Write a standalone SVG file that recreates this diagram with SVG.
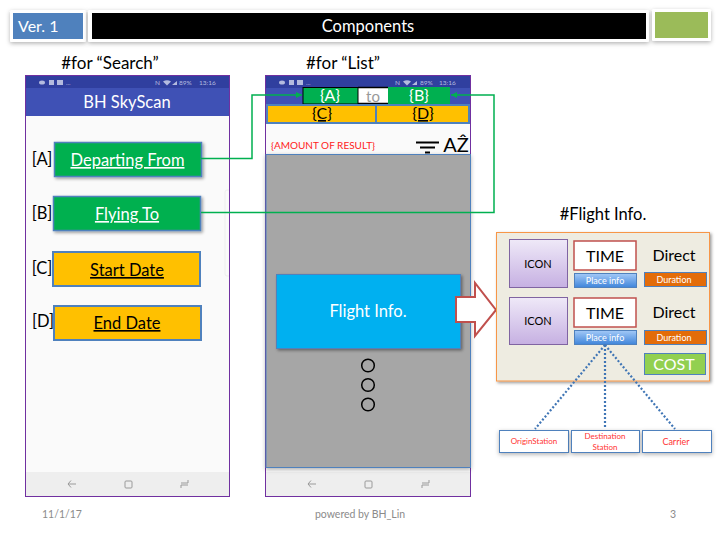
<svg xmlns="http://www.w3.org/2000/svg" width="720" height="540" viewBox="0 0 720 540">
<style>
text{font-family:"Lato","Open Sans","Liberation Sans",sans-serif;text-anchor:middle}
.l{text-anchor:start}
.w{fill:#fff}.k{fill:#000}.r{fill:#f33}
.u{text-decoration:underline}
.g{fill:#00b050;stroke:#4f81bd;stroke-width:1.5}
.y{fill:#ffc000;stroke:#4f81bd;stroke-width:2}
.bar{fill:#b4bbdf;font-size:6.5px}
.bi{fill:#b4bbdf}
.nav{fill:none;stroke:#9a9a9a;stroke-width:1}
.conn{fill:none;stroke:#00b050;stroke-width:1.5}
.dot{fill:none;stroke:#3f75b5;stroke-width:2.2;stroke-dasharray:2 2}
.icon{fill:url(#pu);stroke:#8064a2;stroke-width:1}
.time{fill:#fff;stroke:#c0504d;stroke-width:1.5}
.place{fill:url(#bl);stroke:#4f81bd;stroke-width:1}
.dur{fill:#e36c09;stroke:#4f81bd;stroke-width:1}
.sub{fill:#fff;stroke:#4f81bd;stroke-width:1}
.foot{fill:#8b8b8b;font-size:10.500px}
</style>
<defs>
<filter id="sh" x="-10%" y="-20%" width="125%" height="150%"><feDropShadow dx="1.5" dy="1.5" stdDeviation="1.5" flood-color="#000" flood-opacity=".4"/></filter>
<filter id="sl" x="-10%" y="-20%" width="125%" height="150%"><feDropShadow dx="0" dy="1.5" stdDeviation="2" flood-color="#000" flood-opacity=".3"/></filter>
<linearGradient id="pu" x1="0" y1="0" x2="0" y2="1"><stop offset="0" stop-color="#efe9f8"/><stop offset="1" stop-color="#c6b0e2"/></linearGradient>
<linearGradient id="bl" x1="0" y1="0" x2="0" y2="1"><stop offset="0" stop-color="#a3c9f7"/><stop offset="1" stop-color="#3f85da"/></linearGradient>
<marker id="ah" markerWidth="7" markerHeight="7" refX="6" refY="3" orient="auto" markerUnits="userSpaceOnUse"><path d="M0 0L6 3L0 6Z" fill="#00b050"/></marker>
</defs>

<g id="header">
<rect x="10" y="10" width="76" height="32" rx="1.5" fill="#fff" filter="url(#sl)"/>
<rect x="13" y="13" width="70" height="26" fill="#4f81bd"/>
<text class="l w" x="18" y="32" font-size="16">Ver. 1</text>
<rect x="88" y="10" width="561" height="32" rx="1.5" fill="#fff" filter="url(#sl)"/>
<rect x="92" y="13" width="554" height="26" fill="#000"/>
<text class="w" x="368" y="32" font-size="16.500">Components</text>
<rect x="652" y="9" width="59" height="32" rx="1.5" fill="#fff" filter="url(#sl)"/>
<rect x="655" y="12" width="53" height="26" fill="#9bbb59"/>
</g>

<g id="titles">
<text class="k" x="110" y="69" font-size="17">#for “Search”</text>
<text class="k" x="343" y="69" font-size="17">#for “List”</text>
<text class="k" x="603" y="220" font-size="16.500">#Flight Info.</text>
</g>

<g id="phone-search">
<rect x="25.500" y="75.500" width="204" height="421" fill="#fafafa"/>
<rect x="26" y="76" width="203" height="12" fill="#303f9f"/>
<rect x="26" y="88" width="203" height="28" fill="#3f51b5"/>
<rect x="26" y="472" width="203" height="24" fill="#eeeeee"/>
<path d="M229 190h-2a2 2 0 0 0-2 2v82a2 2 0 0 0 2 2h2" fill="none" stroke="#eee"/>
<rect x="25.500" y="75.500" width="204" height="421" fill="none" stroke="#7030a0" stroke-width="1"/>
<ellipse class="bi" cx="42" cy="82.500" rx="3" ry="2"/><rect class="bi" x="49" y="80" width="5" height="5"/><rect class="bi" x="57" y="80" width="6" height="5"/>
<text class="bar l" x="66" y="85">...</text>
<text class="bar l" x="155" y="85">N</text>
<path class="bi" d="M163 81.500q4-2.500 8 0l-4 4ZM172 85l5-4v4Z"/>
<text class="bar l" x="179" y="85">89%</text>
<text class="bar l" x="199" y="85">13:16</text>
<text class="w" x="127" y="108" font-size="16.500">BH SkyScan</text>
<path class="nav" d="M76 484H68M71 480.500L68 484L71 487.500"/>
<rect class="nav" x="125" y="481" width="7" height="7" rx="1"/>
<path class="nav" d="M181 483H188V480M181 488V485H188"/>
</g>

<g id="label-a"><text class="k" x="42" y="165" font-size="16.500">[A]</text></g>
<g id="label-b"><text class="k" x="42" y="219" font-size="16.500">[B]</text></g>
<g id="label-c"><text class="k" x="42" y="274" font-size="16.500">[C]</text></g>
<g id="label-d"><text class="k" x="43" y="327" font-size="16.500">[D]</text></g>

<g id="btn-departing"><rect class="g" x="54.500" y="142.500" width="147" height="34" filter="url(#sh)"/><text class="w u" x="127.500" y="166" font-size="16.500">Departing From</text></g>
<g id="btn-flying"><rect class="g" x="53.500" y="196.500" width="147" height="34" filter="url(#sh)"/><text class="w u" x="127" y="220" font-size="16.500">Flying To</text></g>
<g id="btn-start"><rect class="y" x="53" y="252" width="147" height="34"/><text class="k u" x="127" y="276" font-size="16.500">Start Date</text></g>
<g id="btn-end"><rect class="y" x="54" y="306" width="147" height="34"/><text class="k u" x="127" y="329" font-size="16.500">End Date</text></g>

<g id="phone-list">
<rect x="265.500" y="75.500" width="205" height="421" fill="#fafafa"/>
<rect x="266" y="76" width="204" height="12" fill="#303f9f"/>
<rect x="266" y="88" width="204" height="17" fill="#3f51b5"/>
<rect x="266" y="472" width="204" height="24" fill="#eeeeee"/>
<rect x="265.500" y="75.500" width="205" height="421" fill="none" stroke="#7030a0" stroke-width="1"/>
<ellipse class="bi" cx="282" cy="82.500" rx="3" ry="2"/><rect class="bi" x="289" y="80" width="5" height="5"/><rect class="bi" x="297" y="80" width="6" height="5"/>
<text class="bar l" x="306" y="85">...</text>
<text class="bar l" x="395" y="85">N</text>
<path class="bi" d="M403 81.500q4-2.500 8 0l-4 4ZM412 85l5-4v4Z"/>
<text class="bar l" x="420" y="85">89%</text>
<text class="bar l" x="439" y="85">13:16</text>
<path class="nav" d="M316 484H308M311 480.500L308 484L311 487.500"/>
<rect class="nav" x="365" y="481" width="7" height="7" rx="1"/>
<path class="nav" d="M422 483H429V480M422 488V485H429"/>
</g>

<g id="field-to">
<rect x="358" y="87" width="30" height="17" fill="#fff"/>
<path d="M358 87.500H388M358 103.500H388" stroke="#000" stroke-width="1.500"/>
<text x="373" y="102" font-size="15" fill="#999">to</text>
</g>
<g id="field-a"><rect x="303" y="87.500" width="55" height="16.500" fill="#00b050" stroke="#000" stroke-width="1"/><text class="w" x="330" y="101" font-size="16">{A}</text></g>
<g id="field-b"><rect x="388" y="87" width="62" height="17" fill="#00b050"/><text class="w" x="419" y="101" font-size="16">{B}</text></g>
<g id="field-c"><rect x="267" y="105" width="109" height="18" fill="#ffc000" stroke="#4f81bd" stroke-width="2"/><text class="k u" x="322" y="119" font-size="16">{C}</text></g>
<g id="field-d"><rect x="376" y="105" width="93" height="18" fill="#ffc000" stroke="#4f81bd" stroke-width="2"/><text class="k u" x="423" y="119" font-size="16">{D}</text></g>

<g id="result-count"><text class="l" x="271" y="149" font-size="10" fill="#f22">{AMOUNT OF RESULT}</text></g>
<g id="sort-icons">
<path d="M416 142.500H439M420 147.500H435M425 152.500H430" stroke="#000" stroke-width="2"/>
<text class="k" x="456" y="152" font-size="20">AẐ</text>
</g>

<g id="result-list">
<rect x="266" y="154.500" width="204.500" height="313" fill="#a6a6a6" stroke="#4f81bd" stroke-width="1" filter="url(#sl)"/>
<circle cx="368" cy="365.500" r="6.300" fill="none" stroke="#000" stroke-width="1.500"/>
<circle cx="368" cy="385" r="6.300" fill="none" stroke="#000" stroke-width="1.500"/>
<circle cx="368" cy="404.500" r="6.300" fill="none" stroke="#000" stroke-width="1.500"/>
</g>

<g id="flight-info-card"><rect x="276.500" y="274.500" width="184" height="74" fill="#00b0f0" stroke="#4f81bd" stroke-width="1" filter="url(#sh)"/><text class="w" x="368" y="317" font-size="16.500">Flight Info.</text></g>
<g id="arrow-flight"><path d="M456 297H475V283L496 310L475 336V322H456Z" fill="#fff" stroke="#c0504d" stroke-width="2"/></g>

<g id="flight-panel">
<rect x="496.500" y="232.500" width="213" height="148.500" fill="#eeece1" stroke="#f79646" stroke-width="1" filter="url(#sh)"/>
</g>
<g id="row1">
<rect class="icon" x="509.500" y="239.500" width="58" height="48"/><text class="k" x="538" y="268" font-size="11">ICON</text>
<rect class="time" x="574" y="241" width="62" height="29"/><text class="k" x="605" y="262" font-size="16">TIME</text>
<rect class="place" x="574.500" y="273.500" width="62" height="14"/><text class="w" x="605" y="284" font-size="9">Place info</text>
<text class="k" x="674" y="261" font-size="16">Direct</text>
<rect class="dur" x="644.500" y="272.500" width="62" height="14"/><text class="w" x="674" y="283" font-size="9">Duration</text>
</g>
<g id="row2">
<rect class="icon" x="509.500" y="297.500" width="58" height="47"/><text class="k" x="538" y="325" font-size="11">ICON</text>
<rect class="time" x="574" y="298" width="62" height="29"/><text class="k" x="605" y="319" font-size="16">TIME</text>
<rect class="place" x="574.500" y="330.500" width="62" height="14"/><text class="w" x="605" y="341" font-size="9">Place info</text>
<text class="k" x="674" y="318" font-size="16">Direct</text>
<rect class="dur" x="644.500" y="330.500" width="62" height="14"/><text class="w" x="674" y="341" font-size="9">Duration</text>
</g>
<g id="cost"><rect x="644.500" y="353.500" width="61" height="21" fill="#92d050" stroke="#4f81bd" stroke-width="1"/><text class="w" x="674" y="370" font-size="16">COST</text></g>

<g id="origin"><rect class="sub" x="499.500" y="430.500" width="69" height="22" filter="url(#sl)"/><text class="r" x="534" y="444" font-size="8">OriginStation</text></g>
<g id="destination"><rect class="sub" x="571.500" y="430.500" width="68" height="22" filter="url(#sl)"/><text class="r" x="605" y="439" font-size="8">Destination</text><text class="r" x="605" y="450" font-size="8">Station</text></g>
<g id="carrier"><rect class="sub" x="642.500" y="430.500" width="69" height="22" filter="url(#sl)"/><text class="r" x="676" y="445" font-size="9">Carrier</text></g>

<g id="connectors">
<path class="conn" d="M201 158.500H252V95H302" marker-end="url(#ah)"/>
<path class="conn" d="M201 212.500H494V95H451" marker-end="url(#ah)"/>
<path class="dot" d="M605 345L535 429M605 345V429M605 345L675 429"/>
</g>

<g id="footer">
<text class="foot" x="62" y="518">11/1/17</text>
<text class="foot" x="360" y="518">powered by BH_Lin</text>
<text class="foot" x="673" y="518">3</text>
</g>
</svg>
